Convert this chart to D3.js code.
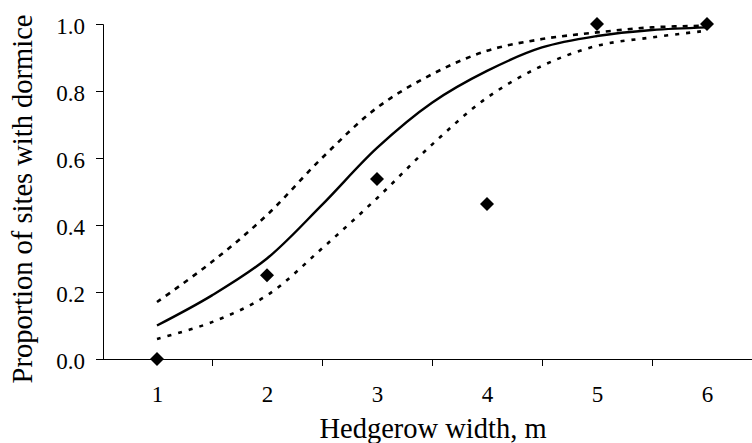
<!DOCTYPE html>
<html>
<head>
<meta charset="utf-8">
<script src="https://cdn.jsdelivr.net/npm/d3@7"></script>
<style>
  html, body { margin: 0; padding: 0; background: #fff; }
  svg { display: block; }
  svg text { font-family: "Times New Roman", "Liberation Serif", serif !important; fill: #000; }
</style>
</head>
<body>
<svg id="chart" width="752" height="443"></svg>
<script>
// Hedgerow width categories (m) and observed proportion of sites with dormice
const widths = [1, 2, 3, 4, 5, 6];
const observed = [0, 0.25, 0.537, 0.463, 1, 1];

// Fitted curve with upper / lower confidence limits
const fitX = [1, 1.5, 2, 2.5, 3, 3.5, 4, 4.5, 5, 5.5, 6];
const fitted = [0.10, 0.19, 0.30, 0.46, 0.63, 0.765, 0.86, 0.93, 0.964, 0.982, 0.99];
const upperCI = [0.17, 0.29, 0.43, 0.60, 0.75, 0.85, 0.92, 0.955, 0.975, 0.99, 0.995];
const lowerCI = [0.06, 0.11, 0.19, 0.33, 0.48, 0.64, 0.78, 0.875, 0.935, 0.96, 0.98];

const yTicks = [0, 0.2, 0.4, 0.6, 0.8, 1.0];
const xTitle = "Hedgerow width, m";
const yTitle = "Proportion of sites with dormice";

const svg = d3.select("#chart");
const plotLeft = 103, plotRight = 762, plotTop = 24, plotBottom = 359;
const serif = '"Times New Roman", "Liberation Serif", serif';

const x = d3.scaleLinear().domain([0.5, 6.5]).range([plotLeft - 1, plotRight]);
const y = d3.scaleLinear().domain([0, 1]).range([plotBottom, plotTop]);

// y axis
const yAxis = svg.append("g")
  .attr("transform", `translate(${plotLeft},0)`)
  .attr("font-family", serif)
  .call(d3.axisLeft(y).tickValues(yTicks).tickFormat(d3.format(".1f")).tickSize(7).tickPadding(11));
yAxis.selectAll("text").style("font-size", "23px").attr("dy", "0.42em");

// x axis: tick marks at category boundaries
const boundaries = widths.map(w => w + 0.5);
svg.append("g")
  .attr("transform", `translate(0,${plotBottom})`)
  .call(d3.axisBottom(x).tickValues(boundaries).tickFormat("").tickSize(7).tickSizeOuter(0));

// x axis: category labels at centres
const xLab = svg.append("g")
  .attr("transform", `translate(0,${plotBottom})`)
  .attr("font-family", serif)
  .call(d3.axisBottom(x).tickValues(widths).tickFormat(d3.format("d")).tickSize(0).tickPadding(27));
xLab.select(".domain").remove();
xLab.selectAll("text").style("font-size", "23px");

svg.selectAll(".domain, .tick line").attr("stroke", "#000").attr("stroke-width", 1);

// axis titles
svg.append("text")
  .attr("x", 433).attr("y", 438)
  .attr("text-anchor", "middle")
  .style("font-size", "28.5px")
  .text(xTitle);

svg.append("text")
  .attr("transform", `translate(32,199) rotate(-90)`)
  .attr("text-anchor", "middle")
  .style("font-size", "28.5px")
  .text(yTitle);

// curves
const line = d3.line()
  .x(d => x(d[0]))
  .y(d => y(d[1]))
  .curve(d3.curveCatmullRom.alpha(0.5));

const series = [
  { values: upperCI, dash: "5,6", width: 2.6 },
  { values: lowerCI, dash: "4,7", width: 2.6 },
  { values: fitted, dash: null, width: 2.4 }
];

series.forEach(s => {
  svg.append("path")
    .datum(fitX.map((v, i) => [v, s.values[i]]))
    .attr("d", line)
    .attr("fill", "none")
    .attr("stroke", "#000")
    .attr("stroke-width", s.width)
    .attr("stroke-dasharray", s.dash);
});

// observed proportions as diamonds
const diamond = d3.symbol().type(d3.symbolSquare).size(98);
svg.append("g").selectAll("path")
  .data(widths.map((w, i) => [w, observed[i]]))
  .join("path")
  .attr("d", diamond)
  .attr("transform", d => `translate(${x(d[0])},${y(d[1])}) rotate(45)`)
  .attr("fill", "#000");
</script>
</body>
</html>
